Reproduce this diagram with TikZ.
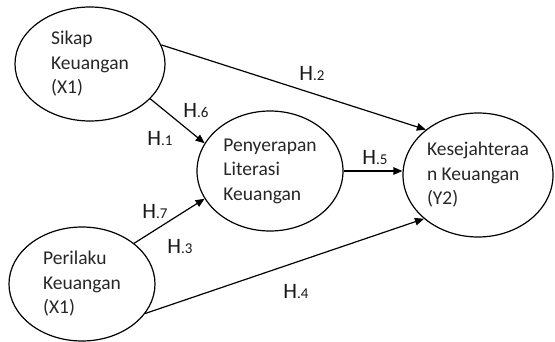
\documentclass[tikz,border=0pt]{standalone}
\usepackage{fontspec}
\setmainfont{Carlito}
\usetikzlibrary{arrows.meta,shapes.geometric}
\tikzset{
  var/.style={draw, ellipse, line width=1.2pt, inner sep=0pt, align=left,
    font=\fontsize{19.5}{24.5}\selectfont, text=black!85},
  conn/.style={line width=1.2pt, -{Triangle[length=9pt,width=7.5pt]}},
  hyp/.style={inner sep=0pt, text=black!90}
}
\newcommand{\hlab}[1]{{\fontsize{22}{22}\selectfont H}{\fontsize{15}{15}\selectfont .#1}}
\begin{document}
\begin{tikzpicture}[x=1pt,y=1pt]
\useasboundingbox (0,0) rectangle (555,341);
\node[var, minimum width=150pt, minimum height=114pt] (s) at (90,277) {Sikap\\Keuangan\\(X1)};
\node[var, minimum width=146pt, minimum height=114pt] (b) at (82,57) {Perilaku\\Keuangan\\(X1)};
\node[var, minimum width=146pt, minimum height=120pt] (p) at (270,170) {Penyerapan\\Literasi\\Keuangan};
\node[var, minimum width=150pt, minimum height=124pt] (k) at (478,166) {Kesejahteraa\\n Keuangan\\(Y2)};
\draw[conn] (s.-30) -- (p.157);
\draw[conn] (s.15) -- (k.139);
\draw[conn] (p.east) -- (p.east -| k.west);
\draw[conn] (b.38) -- (p.203);
\draw[conn] (b.-25) -- (k.219);
\node[hyp] (h6) at (196,230) {\hlab{6}};
\node[hyp] (h1) at (160,202) {\hlab{1}};
\node[hyp] (h2) at (312,267) {\hlab{2}};
\node[hyp] (h5) at (375,183) {\hlab{5}};
\node[hyp] (h7) at (155,130) {\hlab{7}};
\node[hyp] (h3) at (180,95) {\hlab{3}};
\node[hyp] (h4) at (296,50) {\hlab{4}};
\end{tikzpicture}
\end{document}
